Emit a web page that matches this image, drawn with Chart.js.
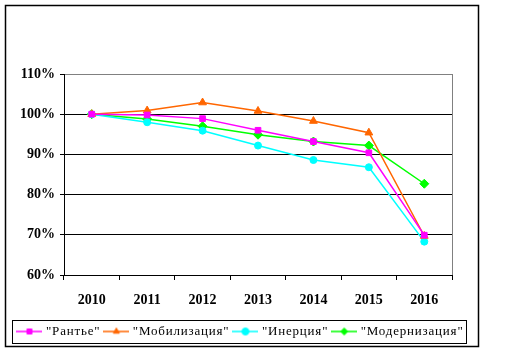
<!DOCTYPE html>
<html><head><meta charset="utf-8">
<script src="https://cdn.jsdelivr.net/npm/chart.js@4/dist/chart.umd.min.js"></script>
<style>html,body{margin:0;padding:0;background:#fff;}canvas{display:block;}</style>
</head><body>
<canvas id="c" width="518" height="359"></canvas>
<script>
const years = ['2010','2011','2012','2013','2014','2015','2016'];
const rantye = [1.000, 0.998, 0.989, 0.960, 0.932, 0.904, 0.699];
const mobilizatsiya = [1.000, 1.009, 1.029, 1.008, 0.983, 0.954, 0.697];
const inertsiya = [1.000, 0.980, 0.959, 0.922, 0.886, 0.868, 0.683];
const modernizatsiya = [1.000, 0.988, 0.970, 0.949, 0.932, 0.922, 0.827];
const seriesNames = ['"Рантье"', '"Мобилизация"', '"Инерция"', '"Модернизация"'];
const yTicks = [0.6, 0.7, 0.8, 0.9, 1.0, 1.1];

const colors = ['#FF00FF', '#FF6600', '#00FFFF', '#00FF00'];
const styles = ['rect', 'triangle', 'circle', 'rectRot'];
const radii = [4, 4.5, 3.5, 4.5];

function legendIcon(color, style, r) {
  const cv = document.createElement('canvas');
  cv.width = 26; cv.height = 12;
  const c = cv.getContext('2d');
  c.strokeStyle = color; c.fillStyle = color; c.lineWidth = 1.5;
  c.beginPath(); c.moveTo(0, 6); c.lineTo(26, 6); c.stroke();
  c.lineWidth = 1;
  Chart.helpers.drawPoint(c, {pointStyle: style, radius: r, rotation: 0, borderWidth: 1}, 13, 6);
  return cv;
}

const data = [rantye, mobilizatsiya, inertsiya, modernizatsiya];
const datasets = data.map((d, i) => ({
  label: seriesNames[i],
  data: d,
  borderColor: colors[i],
  backgroundColor: colors[i],
  borderWidth: 1.5,
  pointStyle: styles[i],
  pointRadius: radii[i],
  pointBorderWidth: 1,
  tension: 0,
  fill: false
}));

const SPACING = '0.8px';
const frame = {
  id: 'frame',
  afterInit(chart) {
    const lg = chart.legend;
    if (lg && !lg._wrapped) {
      lg._wrapped = true;
      const f = lg.fit, dr = lg.draw;
      lg.fit = function() { const ctx = this.ctx; ctx.save(); ctx.letterSpacing = SPACING; f.apply(this, arguments); ctx.restore(); };
      lg.draw = function() { const ctx = this.ctx; ctx.save(); ctx.letterSpacing = SPACING; dr.apply(this, arguments); ctx.restore(); };
    }
  },
  beforeDraw(chart) {
    const ctx = chart.ctx;
    ctx.save();
    ctx.fillStyle = '#fff';
    ctx.fillRect(0, 0, chart.width, chart.height);
    ctx.restore();
  },
  afterDraw(chart) {
    const ctx = chart.ctx;
    const a = chart.chartArea;
    ctx.save();
    ctx.strokeStyle = '#808080'; ctx.lineWidth = 1;
    ctx.beginPath();
    ctx.moveTo(Math.round(a.right) + 0.5, a.top);
    ctx.lineTo(Math.round(a.right) + 0.5, a.bottom);
    ctx.stroke();
    ctx.strokeStyle = '#000'; ctx.lineWidth = 1.5;
    ctx.strokeRect(5.5, 5.5, 473, 341);
    const hb = chart.legend.legendHitBoxes;
    if (hb && hb.length) {
      const l = Math.min(...hb.map(h => h.left)) - 7;
      const r = Math.max(...hb.map(h => h.left + h.width)) + 3;
      const t = Math.min(...hb.map(h => h.top)) - 5;
      const b = Math.max(...hb.map(h => h.top + h.height)) + 5;
      ctx.lineWidth = 1;
      ctx.strokeRect(Math.round(l) + 0.5, Math.round(t) + 0.5, Math.round(r - l), Math.round(b - t));
    }
    ctx.restore();
  }
};

new Chart(document.getElementById('c'), {
  type: 'line',
  data: { labels: years, datasets },
  options: {
    responsive: false,
    animation: false,
    devicePixelRatio: 1,
    layout: { padding: { left: 5, right: 40, top: 74, bottom: 11 } },
    plugins: {
      tooltip: { enabled: false },
      legend: {
        position: 'bottom',
        labels: {
          usePointStyle: true,
          pointStyleWidth: 20,
          padding: 6,
          color: '#000',
          font: { family: 'Liberation Serif', size: 13 },
          generateLabels(chart) {
            return chart.data.datasets.map((ds, i) => ({
              text: ds.label,
              fillStyle: ds.borderColor,
              strokeStyle: ds.borderColor,
              lineWidth: 0,
              pointStyle: legendIcon(ds.borderColor, ds.pointStyle, 3.5),
              datasetIndex: i,
              hidden: false,
              fontColor: '#000'
            }));
          }
        }
      }
    },
    scales: {
      x: {
        offset: true,
        grid: { offset: true, drawOnChartArea: false, drawTicks: true, tickLength: 5, color: '#000' },
        border: { color: '#000', width: 1 },
        ticks: { color: '#000', padding: 12, font: { family: 'Liberation Serif', size: 14, weight: 'bold' }, maxRotation: 0 },
        afterFit(s) { s.height = 44; }
      },
      y: {
        min: 0.6, max: 1.1,
        afterBuildTicks(s) { s.ticks = yTicks.map(v => ({ value: v })); },
        grid: {
          color: ctx => (ctx.tick && Math.abs(ctx.tick.value - 1.1) < 1e-9) ? '#808080' : '#000',
          lineWidth: 1,
          tickLength: 4,
          tickColor: '#000'
        },
        border: { color: '#000', width: 1 },
        ticks: {
          color: '#000', padding: 5,
          font: { family: 'Liberation Serif', size: 14, weight: 'bold' },
          callback: v => Math.round(v * 100) + '%'
        },
        afterFit(s) { s.width = 59; }
      },
      y2: {
        position: 'right',
        display: true,
        grid: { display: false, drawTicks: false },
        border: { display: false },
        ticks: { display: false },
        afterFit(s) { s.width = 26; }
      }
    }
  },
  plugins: [frame]
});
</script>
</body></html>
